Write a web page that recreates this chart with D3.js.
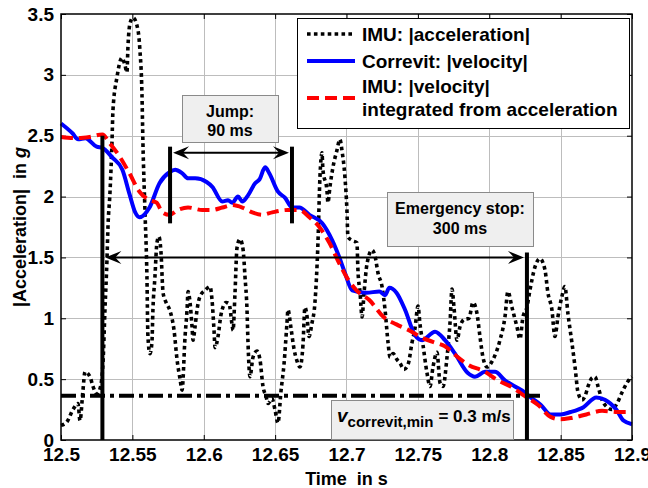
<!DOCTYPE html>
<html><head><meta charset="utf-8">
<script src="https://cdn.jsdelivr.net/npm/d3@7"></script>
<style>
body{margin:0;background:#fff}
text{font-family:"Liberation Sans",Arial,Helvetica,sans-serif;font-weight:bold;fill:#000}
</style>
</head><body><svg id="c" width="648" height="488"></svg>
<script>
// ---------- data ----------
const xTicks = [12.5,12.55,12.6,12.65,12.7,12.75,12.8,12.85,12.9];
const xTickLabels = ["12.5","12.55","12.6","12.65","12.7","12.75","12.8","12.85","12.9"];
const yTicks = [0,0.5,1,1.5,2,2.5,3,3.5];
const yTickLabels = ["0","0.5","1","1.5","2","2.5","3","3.5"];

// IMU |acceleration| (g)
const accT = [12.5,12.5042,12.5084,12.5119,12.5133,12.5154,12.5168,12.5203,12.5224,12.5252,12.5273,12.5294,12.5308,12.5322,12.5329,12.5343,12.5357,12.5364,12.5392,12.5427,12.5448,12.5462,12.5469,12.5483,12.5504,12.5539,12.5553,12.5567,12.5574,12.5588,12.5602,12.5609,12.5623,12.5637,12.5644,12.5658,12.5672,12.5686,12.57,12.5715,12.5736,12.5764,12.5792,12.5813,12.5834,12.5848,12.5869,12.5883,12.589,12.5904,12.5918,12.5925,12.5939,12.5953,12.5974,12.6009,12.6044,12.6058,12.6072,12.6079,12.61,12.6121,12.6156,12.6177,12.6198,12.6205,12.6219,12.6233,12.6254,12.6275,12.6289,12.6303,12.631,12.6324,12.6345,12.6373,12.6394,12.6415,12.6436,12.645,12.6478,12.6499,12.652,12.6541,12.6562,12.6583,12.659,12.6611,12.6632,12.6653,12.6674,12.6695,12.6709,12.6723,12.6737,12.6758,12.6779,12.68,12.6814,12.6828,12.6835,12.6863,12.687,12.6884,12.6905,12.6933,12.6954,12.6968,12.6989,12.7003,12.701,12.7038,12.7073,12.708,12.7095,12.7109,12.7123,12.7144,12.7179,12.72,12.7221,12.7249,12.727,12.7291,12.7305,12.7326,12.7354,12.7375,12.7403,12.7431,12.7459,12.748,12.7501,12.7515,12.7536,12.7564,12.7585,12.7606,12.7634,12.7655,12.7676,12.7704,12.7725,12.7739,12.7753,12.7774,12.7795,12.7823,12.7858,12.7886,12.7914,12.7935,12.7956,12.7984,12.8026,12.8075,12.811,12.8131,12.8159,12.8194,12.8215,12.8236,12.8264,12.8285,12.832,12.8355,12.839,12.8411,12.8439,12.846,12.8481,12.8509,12.853,12.8551,12.8579,12.8601,12.8622,12.865,12.8671,12.8692,12.872,12.8741,12.8762,12.879,12.8825,12.886,12.8895,12.893,12.8965,12.9];
const accV = [0.12,0.15,0.25,0.30,0.16,0.41,0.56,0.52,0.44,0.38,0.42,0.63,1.07,1.48,1.75,2.03,2.44,2.71,2.98,3.14,3.08,3.02,3.23,3.42,3.47,3.37,3.2,2.85,2.44,1.89,1.34,0.85,0.71,0.80,1.07,1.34,1.62,1.67,1.55,1.21,1.13,1.06,0.90,0.66,0.50,0.41,0.85,1.07,1.22,1.13,0.93,0.82,0.93,1.07,1.18,1.23,1.26,1.15,0.90,0.76,0.85,1.03,1.13,1.12,0.95,0.90,1.21,1.58,1.65,1.57,1.34,1.07,0.80,0.52,0.68,0.73,0.66,0.44,0.36,0.30,0.34,0.25,0.14,0.40,0.62,0.96,1.07,0.92,0.75,0.65,0.60,0.78,1.09,1.02,0.85,0.96,1.13,1.62,2.16,2.36,2.22,2.05,1.95,2.08,2.24,2.38,2.47,2.38,2.16,1.89,1.67,1.64,1.62,1.40,1.21,1.01,1.21,1.45,1.56,1.51,1.37,1.26,1.07,0.80,0.68,0.71,0.66,0.63,0.58,0.62,0.80,0.92,1.10,0.95,0.78,0.55,0.44,0.60,0.72,0.47,0.44,0.68,0.96,1.24,1.09,0.82,0.93,0.99,1.00,1.13,1.04,0.85,0.68,0.60,0.66,0.82,1.01,1.22,1.09,0.93,0.83,1.01,1.09,1.23,1.42,1.49,1.40,1.21,1.07,0.85,1.01,1.18,1.26,1.04,0.80,0.60,0.39,0.33,0.36,0.44,0.51,0.52,0.44,0.33,0.27,0.25,0.30,0.39,0.47,0.52];

// Correvit |velocity|
const corT = [12.5,12.508,12.512,12.517,12.525,12.529,12.536,12.543,12.548,12.552,12.555,12.562,12.569,12.576,12.58,12.585,12.589,12.594,12.602,12.606,12.613,12.617,12.62,12.624,12.627,12.631,12.636,12.639,12.643,12.646,12.652,12.657,12.662,12.667,12.674,12.683,12.69,12.695,12.699,12.704,12.714,12.723,12.727,12.73,12.735,12.741,12.748,12.753,12.762,12.769,12.776,12.785,12.79,12.797,12.804,12.811,12.818,12.825,12.829,12.836,12.843,12.85,12.857,12.866,12.875,12.881,12.889,12.894,12.9];
const corV = [2.60,2.52,2.47,2.48,2.41,2.40,2.32,2.22,2.02,1.87,1.83,1.91,2.11,2.20,2.22,2.19,2.15,2.15,2.12,2.08,1.96,1.97,1.95,2.00,1.96,2.01,2.11,2.14,2.24,2.19,2.04,1.99,1.91,1.91,1.85,1.78,1.64,1.50,1.37,1.23,1.21,1.22,1.19,1.25,1.21,1.07,0.86,0.82,0.89,0.82,0.71,0.55,0.52,0.56,0.56,0.49,0.44,0.39,0.35,0.29,0.21,0.21,0.23,0.27,0.35,0.33,0.25,0.16,0.13];

// IMU |velocity| integrated from acceleration
const intT = [12.5,12.511,12.52,12.529,12.534,12.541,12.548,12.555,12.562,12.567,12.571,12.576,12.582,12.589,12.599,12.606,12.613,12.62,12.627,12.634,12.641,12.648,12.659,12.667,12.674,12.681,12.688,12.695,12.7,12.707,12.716,12.726,12.735,12.744,12.753,12.762,12.769,12.776,12.785,12.797,12.806,12.815,12.825,12.834,12.843,12.85,12.857,12.868,12.879,12.89,12.9];
const intV = [2.49,2.48,2.49,2.51,2.44,2.33,2.19,2.04,1.97,1.95,1.87,1.85,1.89,1.91,1.89,1.89,1.91,1.93,1.91,1.87,1.85,1.87,1.89,1.89,1.83,1.75,1.62,1.45,1.34,1.23,1.15,1.01,0.95,0.90,0.84,0.80,0.77,0.70,0.62,0.56,0.49,0.44,0.36,0.29,0.19,0.17,0.18,0.21,0.24,0.23,0.23];

// annotation values (data units)
const jumpTimes = [12.5764, 12.6618];
const stopTimes = [12.529, 12.8264];
const vMinLevel = 0.364;
const vMinEnd = 12.8377;

// ---------- chart ----------
const svg = d3.select('#c');
const L = 61, R = 632, T = 14, B = 440;
const x = d3.scaleLinear().domain([12.5, 12.9]).range([L, R]);
const y = d3.scaleLinear().domain([0, 3.5]).range([B, T]);

svg.append('rect').attr('width',648).attr('height',488).attr('fill','#fff');

// grid
const grid = svg.append('g').attr('stroke','#bdbdbd').attr('stroke-width',1);
grid.selectAll('.gx').data(xTicks.slice(1,-1)).join('line')
  .attr('x1',d=>Math.round(x(d))+0.5).attr('x2',d=>Math.round(x(d))+0.5).attr('y1',T).attr('y2',B);
grid.selectAll('.gy').data(yTicks.slice(1,-1)).join('line')
  .attr('y1',d=>Math.round(y(d))+0.5).attr('y2',d=>Math.round(y(d))+0.5).attr('x1',L).attr('x2',R);

// axes
const fmtX = (d)=>xTickLabels[xTicks.indexOf(d)];
const fmtY = (d)=>yTickLabels[yTicks.indexOf(d)];
const axB = svg.append('g').attr('transform',`translate(0,${B})`)
  .call(d3.axisBottom(x).tickValues(xTicks).tickFormat(fmtX).tickSize(-5).tickPadding(8));
const axT = svg.append('g').attr('transform',`translate(0,${T})`)
  .call(d3.axisTop(x).tickValues(xTicks).tickFormat('').tickSize(-5));
const axLft = svg.append('g').attr('transform',`translate(${L},0)`)
  .call(d3.axisLeft(y).tickValues(yTicks).tickFormat(fmtY).tickSize(-5).tickPadding(7));
const axRt = svg.append('g').attr('transform',`translate(${R},0)`)
  .call(d3.axisRight(y).tickValues(yTicks).tickFormat('').tickSize(-5));
[axB,axT,axLft,axRt].forEach(a=>{
  a.select('.domain').remove();
  a.selectAll('.tick line').attr('stroke','#000');
  a.selectAll('text').attr('font-size',19).attr('font-family','"Liberation Sans",Arial,sans-serif').attr('font-weight','bold').attr('fill','#000');
});

// data lines
const line = d3.line().x(d=>x(d[0])).y(d=>y(d[1])).curve(d3.curveMonotoneX);
svg.append('path').datum(d3.zip(accT,accV)).attr('d',line)
  .attr('fill','none').attr('stroke','#000').attr('stroke-width',3.6).attr('stroke-dasharray','3.6,3.4');
svg.append('path').datum(d3.zip(corT,corV)).attr('d',line)
  .attr('fill','none').attr('stroke','#0000ff').attr('stroke-width',4).attr('stroke-linejoin','round');
svg.append('path').datum(d3.zip(intT,intV)).attr('d',line)
  .attr('fill','none').attr('stroke','#ff0000').attr('stroke-width',4).attr('stroke-dasharray','12,6');

// frame
svg.append('rect').attr('x',L).attr('y',T).attr('width',R-L).attr('height',B-T)
  .attr('fill','none').attr('stroke','#000').attr('stroke-width',1.5);

// annotations
const ann = svg.append('g');
function vline(t, v0, v1){
  ann.append('line').attr('x1',x(t)).attr('x2',x(t)).attr('y1',y(v0)).attr('y2',y(v1))
    .attr('stroke','#000').attr('stroke-width',4);
}
function head(tx, ty, dir){
  const Lh=16, Wh=6.5;
  const pts=[[tx,ty],[tx-dir*Lh,ty-Wh],[tx-dir*Lh*0.62,ty],[tx-dir*Lh,ty+Wh]];
  ann.append('polygon').attr('points',pts.map(p=>p.join(',')).join(' ')).attr('fill','#000');
}
function darrow(t0,t1,v){
  const x0=x(t0)+3, x1=x(t1)-3, yy=y(v);
  ann.append('line').attr('x1',x0+8).attr('x2',x1-8).attr('y1',yy).attr('y2',yy).attr('stroke','#000').attr('stroke-width',2);
  head(x0,yy,-1); head(x1,yy,1);
}
// v_min dash-dot line
ann.append('line').attr('x1',x(12.5)).attr('x2',x(vMinEnd)).attr('y1',y(vMinLevel)).attr('y2',y(vMinLevel))
  .attr('stroke','#000').attr('stroke-width',4).attr('stroke-dasharray','15,5,4,5');
vline(stopTimes[0], 0, 2.5);
vline(stopTimes[1], 0, 1.54);
vline(jumpTimes[0], 1.78, 2.41);
vline(jumpTimes[1], 1.78, 2.41);
darrow(jumpTimes[0], jumpTimes[1], 2.36);
darrow(stopTimes[0], stopTimes[1], 1.5);

// text boxes
function box(x0,y0,w,h){
  ann.append('rect').attr('x',x0+0.5).attr('y',y0+0.5).attr('width',w).attr('height',h)
    .attr('fill','#efefef').attr('stroke','#8a8a8a').attr('stroke-width',1);
}
box(182,95,96,47);
ann.append('text').attr('x',230).attr('y',117).attr('text-anchor','middle').attr('font-size',16).text('Jump:');
ann.append('text').attr('x',230).attr('y',136).attr('text-anchor','middle').attr('font-size',16).text('90 ms');
box(387,192,146,54);
ann.append('text').attr('x',460).attr('y',214).attr('text-anchor','middle').attr('font-size',16).text('Emergency stop:');
ann.append('text').attr('x',460).attr('y',234).attr('text-anchor','middle').attr('font-size',16).text('300 ms');
box(331,400,182,39);
const vt = ann.append('text').attr('x',337).attr('y',422);
vt.append('tspan').attr('font-style','italic').attr('font-size',19).text('v');
vt.append('tspan').attr('font-size',15).attr('dy',5).text('correvit,min');
vt.append('tspan').attr('font-size',17).attr('dy',-5).attr('dx',5).text('= 0.3 m/s');

// legend
const lg = svg.append('g');
lg.append('rect').attr('x',297.5).attr('y',18.5).attr('width',332).attr('height',110)
  .attr('fill','#fff').attr('stroke','#000').attr('stroke-width',1);
lg.append('line').attr('x1',307).attr('x2',355).attr('y1',34).attr('y2',34)
  .attr('stroke','#000').attr('stroke-width',3.6).attr('stroke-dasharray','3.6,3.3');
lg.append('line').attr('x1',307).attr('x2',355).attr('y1',61).attr('y2',61)
  .attr('stroke','#0000ff').attr('stroke-width',4);
lg.append('line').attr('x1',307).attr('x2',355).attr('y1',98).attr('y2',98)
  .attr('stroke','#ff0000').attr('stroke-width',4).attr('stroke-dasharray','12,6');
const legTxt = [["IMU: |acceleration|",41],["Correvit: |velocity|",68],["IMU: |velocity|",93],["integrated from acceleration",116]];
legTxt.forEach(([s,yy])=>lg.append('text').attr('x',362).attr('y',yy).attr('font-size',19).text(s));

// axis labels
svg.append('text').attr('x',(L+R)/2).attr('y',485).attr('text-anchor','middle').attr('font-size',18)
  .style('white-space','pre').text('Time  in s');
const yl = svg.append('text').attr('transform',`translate(26,${(T+B)/2}) rotate(-90)`).attr('text-anchor','middle')
  .attr('font-size',18).style('white-space','pre');
yl.append('tspan').text('|Acceleration|  in ');
yl.append('tspan').attr('font-style','italic').text('g');
</script>
</body></html>
